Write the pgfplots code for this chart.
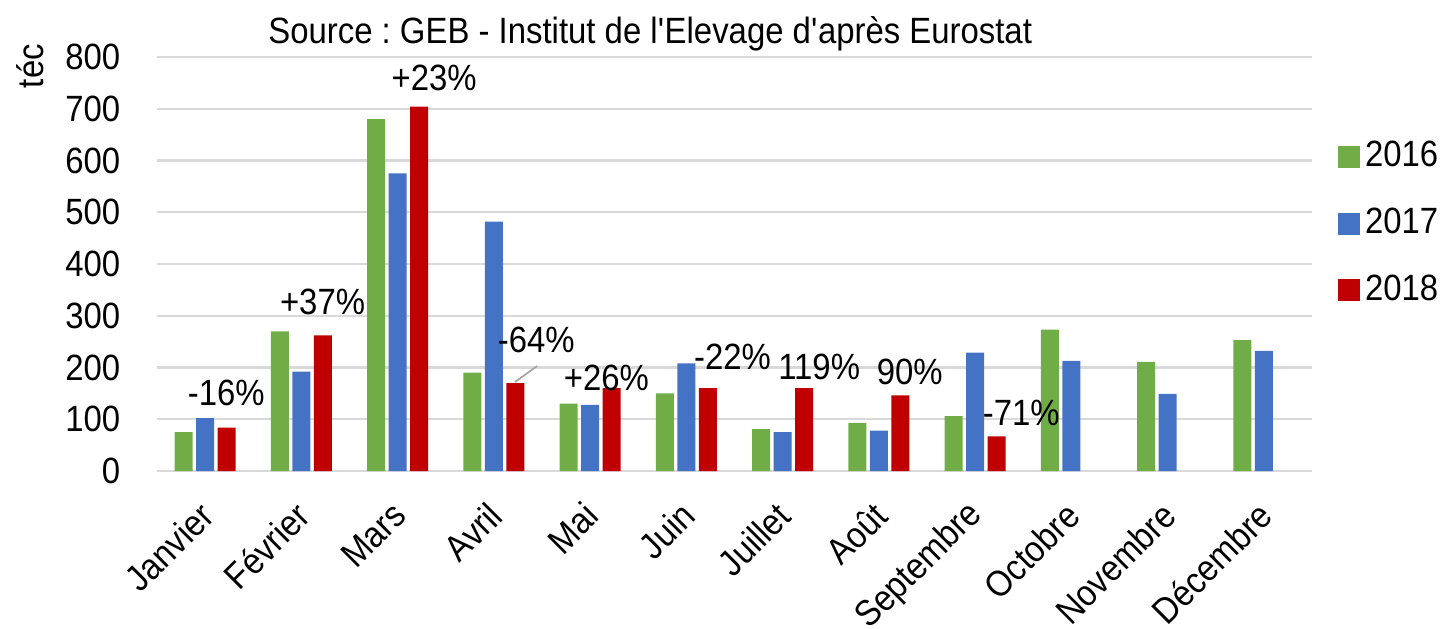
\documentclass[border=0pt]{standalone}
\usepackage{fontspec}
\setmainfont{Liberation Sans}[FakeStretch=0.9]
\usepackage{pgfplots}
\pgfplotsset{compat=1.18}
\definecolor{cgreen}{HTML}{70AD47}
\definecolor{cblue}{HTML}{4472C4}
\definecolor{cred}{HTML}{C00000}
\definecolor{cgrid}{HTML}{D9D9D9}
\frenchspacing
\begin{document}
\begin{tikzpicture}
\clip (-1.57cm,-1.57cm) rectangle (12.88cm,4.71cm);
\begin{axis}[
  at={(0,0)}, anchor=south west,
  scale only axis, width=11.55cm, height=4.14cm,
  font=\fontsize{10.4}{12}\selectfont,
  /pgf/number format/assume math mode=true,
  ybar=0.035cm, bar width=0.18cm,
  xmin=-0.5, xmax=11.5, ymin=0, ymax=800,
  ytick={0,100,...,800},
  xtick=data,
  xticklabels={Janvier,Février,Mars,Avril,Mai,Juin,Juillet,Août,Septembre,Octobre,Novembre,Décembre},
  xticklabel style={xshift=0.02cm, yshift=-0.38cm, rotate=45, anchor=east, inner sep=0pt},
  yticklabel style={anchor=east, inner sep=0pt, xshift=-0.36cm},
  major tick length=0pt,
  axis line style={draw=none},
  ymajorgrids, major grid style={color=cgrid, line width=0.6pt},
  legend style={draw=none, fill=none, at={(1.022,0.81)}, anchor=north west,
    font=\fontsize{10.4}{12}\selectfont, row sep=0.26cm, inner sep=0pt,
    nodes={inner sep=0.05cm}},
  legend cell align=left,
  legend image code/.code={\fill[#1,draw=none] (0cm,-0.11cm) rectangle (0.22cm,0.11cm);},
  clip=false,
]
\addplot[fill=cgreen, draw=none] coordinates {(0,75) (1,270) (2,680) (3,190) (4,130) (5,150) (6,81) (7,93) (8,106) (9,273) (10,211) (11,253)};
\addplot[fill=cblue, draw=none] coordinates {(0,102) (1,192) (2,575) (3,482) (4,128) (5,208) (6,75) (7,78) (8,229) (9,213) (10,149) (11,232)};
\addplot[fill=cred, draw=none] coordinates {(0,84) (1,262) (2,704) (3,170) (4,160) (5,160) (6,160) (7,146) (8,67)};
\legend{2016,2017,2018}
\node at (axis cs:0.22,151) {-16\%};
\node at (axis cs:1.22,327) {+37\%};
\node at (axis cs:2.38,759) {+23\%};
\node at (axis cs:3.44,253) {-64\%};
\draw[gray!70, line width=0.5pt] (axis cs:3.45,203) -- (axis cs:3.22,172);
\node at (axis cs:4.17,180) {+26\%};
\node at (axis cs:5.48,220) {-22\%};
\node at (axis cs:6.38,201) {119\%};
\node at (axis cs:7.32,191) {90\%};
\node at (axis cs:8.48,112) {-71\%};
\node at (rel axis cs:0.427,1.055) {Source : GEB - Institut de l\textquotesingle Elevage d\textquotesingle après Eurostat};
\node[rotate=90] at (rel axis cs:-0.11,0.978) {téc};
\end{axis}
\end{tikzpicture}
\end{document}
